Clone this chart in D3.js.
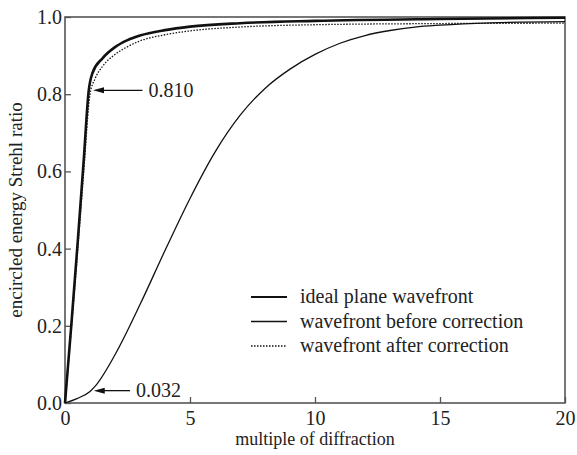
<!DOCTYPE html>
<html>
<head>
<meta charset="utf-8">
<script src="https://cdn.jsdelivr.net/npm/d3@7"></script>
<style>
  body { margin: 0; background: #fff; }
  svg text { font-family: "Liberation Serif", "Times New Roman", serif; fill: #222; }
</style>
</head>
<body>
<div id="chart"></div>
<script>
// dados
var xTicks = [0, 5, 10, 15, 20];
var yTicks = [0, 0.2, 0.4, 0.6, 0.8, 1.0];

var ideal = [[0,0],[0.25,0.2],[0.5,0.41],[0.75,0.63],[0.95,0.81],[1.1,0.855],[1.5,0.893],[2,0.922],[2.5,0.94],[3,0.952],[4,0.966],[5,0.975],[7,0.984],[10,0.99],[15,0.995],[20,0.998]];
var antes = [[0,0],[0.5,0.012],[1,0.03],[1.2,0.043],[2,0.125],[3,0.255],[4,0.395],[5,0.53],[6,0.65],[7,0.745],[8,0.815],[9,0.865],[10,0.903],[11,0.932],[12,0.952],[13,0.965],[14,0.974],[15,0.979],[17,0.985],[20,0.988]];
var depois = [[0,0],[0.25,0.19],[0.5,0.39],[0.75,0.6],[1.0,0.8],[1.2,0.84],[1.5,0.872],[2,0.903],[2.5,0.923],[3,0.938],[4,0.954],[5,0.964],[7,0.974],[10,0.98],[15,0.983],[20,0.984]];

var series = [
  { nome: 'ideal plane wavefront', dados: ideal, largura: 2.6, traco: null },
  { nome: 'wavefront before correction', dados: antes, largura: 1.3, traco: null },
  { nome: 'wavefront after correction', dados: depois, largura: 1.3, traco: '1.5,1.5' }
];

// anotações: valor, x início da seta, x fim da seta
var notas = [
  { texto: '0.810', y: 0.81, x1: 1.12, x2: 3.1 },
  { texto: '0.032', y: 0.032, x1: 1.15, x2: 2.6 }
];

var larg = 577, alt = 455;
var m = { left: 65, right: 12, top: 17, bottom: 52 };

var svg = d3.select('#chart').append('svg')
  .attr('width', larg).attr('height', alt);

var x = d3.scaleLinear().domain([0, 20]).range([m.left, larg - m.right]);
var y = d3.scaleLinear().domain([0, 1]).range([alt - m.bottom, m.top]);

// moldura
svg.append('rect')
  .attr('x', x(0)).attr('y', y(1))
  .attr('width', x(20) - x(0)).attr('height', y(0) - y(1))
  .attr('fill', 'none').attr('stroke', '#555').attr('stroke-width', 1.6);

// eixos com ticks para dentro
var eixoX = svg.append('g').attr('transform', 'translate(0,' + y(0) + ')')
  .call(d3.axisBottom(x).tickValues(xTicks).tickSizeInner(-6).tickSizeOuter(0).tickPadding(8));
var eixoY = svg.append('g').attr('transform', 'translate(' + x(0) + ',0)')
  .call(d3.axisLeft(y).tickValues(yTicks).tickSizeInner(-6).tickSizeOuter(0).tickPadding(3)
    .tickFormat(d3.format('.1f')));

[eixoX, eixoY].forEach(function(g) {
  g.attr('font-family', null);
  g.select('.domain').remove();
  g.selectAll('line').attr('stroke', '#555').attr('stroke-width', 1.3);
  g.selectAll('text').style('font-size', '20px').attr('fill', '#222');
});
eixoX.selectAll('text').attr('dy', '0.72em');
eixoY.selectAll('text').attr('dy', '0.32em');

// títulos dos eixos
svg.append('text')
  .attr('x', (x(0) + x(20)) / 2).attr('y', 445)
  .attr('text-anchor', 'middle').style('font-size', '18px')
  .text('multiple of diffraction');

svg.append('text')
  .attr('transform', 'translate(22,' + (y(0.5)) + ') rotate(-90)')
  .attr('text-anchor', 'middle').style('font-size', '19px')
  .text('encircled energy Strehl ratio');

// curvas
var linha = d3.line()
  .x(function(d) { return x(d[0]); })
  .y(function(d) { return y(d[1]); })
  .curve(d3.curveMonotoneX);

series.forEach(function(s) {
  svg.append('path')
    .datum(s.dados)
    .attr('d', linha)
    .attr('fill', 'none')
    .attr('stroke', '#111')
    .attr('stroke-width', s.largura)
    .attr('stroke-dasharray', s.traco);
});

// setas e valores
notas.forEach(function(n) {
  var px = x(n.x1), py = y(n.y);
  svg.append('line')
    .attr('x1', px + 8).attr('x2', x(n.x2))
    .attr('y1', py).attr('y2', py)
    .attr('stroke', '#111').attr('stroke-width', 1.3);
  svg.append('path')
    .attr('d', 'M' + px + ',' + py + 'L' + (px + 11) + ',' + (py - 3) + 'L' + (px + 11) + ',' + (py + 3) + 'Z')
    .attr('fill', '#111');
  svg.append('text')
    .attr('x', x(n.x2) + 6).attr('y', py)
    .attr('dy', '0.32em')
    .style('font-size', '20px')
    .text(n.texto);
});

// legenda
var leg = svg.append('g').attr('transform', 'translate(251,297)');
series.forEach(function(s, i) {
  var g = leg.append('g').attr('transform', 'translate(0,' + i * 24.5 + ')');
  g.append('line')
    .attr('x1', 0).attr('x2', 36)
    .attr('stroke', '#111')
    .attr('stroke-width', s.largura === 2.6 ? 2.2 : s.largura)
    .attr('stroke-dasharray', s.traco);
  g.append('text')
    .attr('x', 49).attr('dy', '0.32em')
    .style('font-size', '20px')
    .text(s.nome);
});
</script>
</body>
</html>
